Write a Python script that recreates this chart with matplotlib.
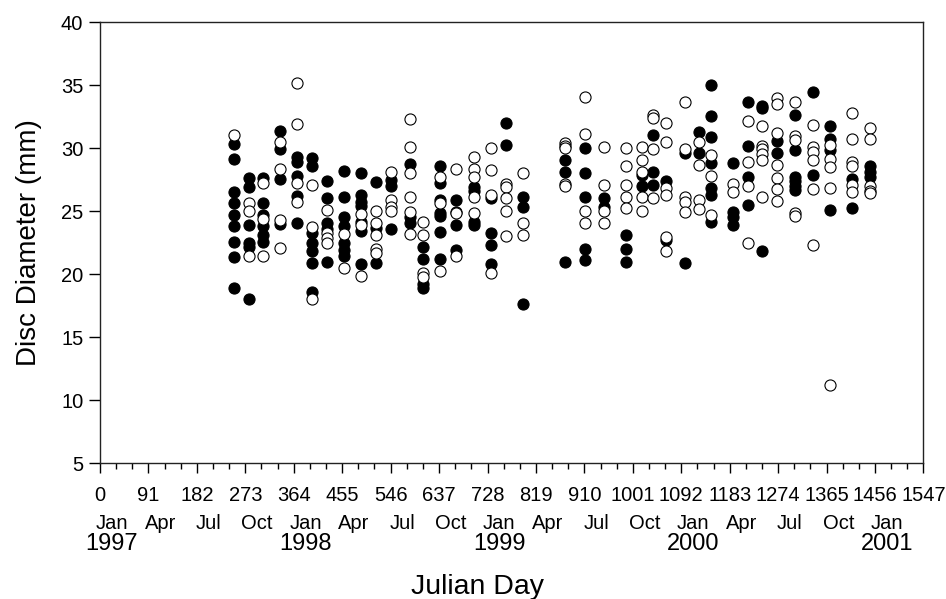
import matplotlib
matplotlib.use("Agg")
import matplotlib.pyplot as plt
import numpy as np

plt.rcParams['font.family'] = ['Liberation Sans', 'DejaVu Sans']

# Sampling days (Julian day since 1 Jan 1997)
sample_days = [251, 279, 307, 338, 370, 398, 426, 458, 490, 519, 547, 583, 607,
               638, 669, 702, 735, 763, 794, 873, 911, 947, 988, 1019, 1039,
               1064, 1099, 1125, 1147, 1189, 1218, 1243, 1271, 1306, 1340,
               1371, 1412, 1446]

# Disc diameters (mm), filled circles
filled_mm = [
    [30.36, 29.15, 26.57, 25.70, 24.72, 23.87, 22.60, 21.36, 18.90],
    [27.63, 26.97, 23.92, 22.52, 22.15, 18.02],
    [27.63, 25.70, 24.72, 23.87, 23.13, 22.60],
    [31.39, 29.93, 27.55, 24.00],
    [29.35, 28.95, 27.82, 26.23, 24.11],
    [29.22, 28.61, 23.26, 22.47, 21.89, 20.88, 18.63],
    [27.45, 26.10, 24.11, 23.58, 20.96],
    [28.24, 26.12, 24.53, 23.84, 22.47, 21.94, 21.46],
    [28.03, 26.31, 25.78, 25.43, 24.19, 23.47, 20.83],
    [27.31, 23.66, 20.88],
    [27.50, 27.02, 23.61],
    [28.74, 24.59, 24.06],
    [22.15, 21.20, 19.24, 18.90],
    [28.61, 27.29, 25.91, 24.85, 24.64, 23.39, 21.20],
    [25.91, 24.98, 23.92, 21.94],
    [26.97, 26.65, 24.19, 23.92],
    [26.04, 23.32, 22.34, 20.83],
    [32.05, 30.28],
    [26.12, 25.38, 17.62],
    [29.09, 28.16, 20.96],
    [30.01, 28.03, 26.12, 21.99, 21.15],
    [26.04, 25.38],
    [23.13, 21.99, 21.01],
    [27.90, 27.02],
    [31.07, 28.16, 27.10],
    [27.45, 22.70],
    [29.67, 20.93],
    [31.34, 29.62],
    [35.04, 32.58, 30.94, 28.82, 26.84, 26.31, 24.19],
    [28.88, 24.98, 24.59, 23.92],
    [33.72, 30.20, 27.71, 25.51],
    [33.38, 33.19, 21.89],
    [30.62, 29.67],
    [32.66, 29.88, 27.76, 27.45, 27.02, 26.70],
    [34.46, 27.89],
    [31.79, 30.73, 29.88, 25.12],
    [27.55, 25.25],
    [28.61, 28.16, 27.76],
]

# Disc diameters (mm), open circles
open_mm = [
    [31.07],
    [25.65, 25.06, 21.46],
    [27.23, 24.37, 21.46],
    [30.54, 28.35, 24.32, 22.07],
    [35.18, 31.95, 27.23, 25.78],
    [27.10, 23.74, 18.02],
    [25.12, 23.26, 22.87, 22.47],
    [23.21, 20.54],
    [24.80, 23.92, 19.90],
    [25.06, 24.06, 23.13, 21.99, 21.67],
    [28.16, 25.91, 25.38, 25.06],
    [32.32, 30.09, 28.08, 26.12, 24.98, 23.21],
    [24.19, 23.13, 20.09, 19.77],
    [27.71, 25.65, 20.30],
    [28.35, 24.85, 21.46],
    [29.30, 28.35, 27.76, 26.18, 24.90],
    [30.01, 28.29, 26.31, 20.14],
    [27.18, 26.97, 26.04, 25.06, 23.05],
    [28.03, 24.06, 23.13],
    [30.41, 30.20, 30.01, 27.18, 27.02],
    [34.06, 31.15, 25.06, 24.06],
    [30.09, 27.10, 25.06, 24.06],
    [30.01, 28.61, 27.10, 26.12, 25.25],
    [30.09, 29.09, 28.16, 26.12, 25.06],
    [32.66, 32.40, 29.93, 26.04],
    [32.05, 30.54, 26.84, 26.31, 22.95, 21.89],
    [33.72, 29.93, 26.18, 25.78, 24.98],
    [30.54, 28.69, 25.91, 25.17],
    [29.48, 27.82, 24.72],
    [27.18, 26.57],
    [32.21, 28.95, 27.02, 22.47],
    [31.79, 30.20, 29.93, 29.56, 29.09, 26.18],
    [33.98, 33.54, 31.26, 28.69, 27.63, 26.76, 25.86],
    [33.72, 30.99, 30.68, 24.85, 24.64],
    [31.87, 30.09, 29.75, 29.09, 26.76, 22.34],
    [30.28, 29.14, 28.56, 26.84, 11.22],
    [32.85, 30.73, 28.95, 28.61, 27.10, 26.57],
    [31.60, 30.73, 27.02, 26.65, 26.44],
]

x_ticks = list(range(0, 1548, 91))
month_labels = ["Jan", "Apr", "Jul", "Oct"] * 4 + ["Jan"]
year_labels = ["1997", "1998", "1999", "2000", "2001"]

fx, fy, ox, oy = [], [], [], []
for d, vals in zip(sample_days, filled_mm):
    fx += [d] * len(vals); fy += vals
for d, vals in zip(sample_days, open_mm):
    ox += [d] * len(vals); oy += vals

fig = plt.figure(figsize=(9.46, 5.99), dpi=100)
ax = fig.add_axes([0.1057, 0.2265, 0.8705, 0.736])

ms = 64
ax.scatter(fx, fy, s=ms, c='black', edgecolors='black', linewidths=0.8, zorder=3)
ax.scatter(ox, oy, s=ms, c='white', edgecolors='black', linewidths=0.8, zorder=4)

ax.set_xlim(0, 1547)
ax.set_ylim(5, 40)
ax.set_xticks(x_ticks)
ax.set_xticklabels([str(t) for t in x_ticks])
ax.set_xticks(np.arange(0, 1548, 91 / 3), minor=True)
ax.set_yticks(range(5, 41, 5))

ax.tick_params(axis='both', which='major', direction='out', labelsize=14.5,
               width=1.0, color='black')
ax.tick_params(axis='x', which='major', length=7, pad=9)
ax.tick_params(axis='y', which='major', length=8, pad=4)
ax.tick_params(axis='x', which='minor', length=4, width=1.0)
ax.tick_params(axis='y', which='minor', length=0)
for sp in ax.spines.values():
    sp.set_linewidth(1.0)
    sp.set_color('#222222')

ax.set_ylabel("Disc Diameter (mm)", fontsize=20, labelpad=14)

off_days = 22
for i, lab in enumerate(month_labels):
    t = x_ticks[i]
    ax.annotate(lab, xy=(t + off_days, 0), xycoords=('data', 'axes fraction'),
                xytext=(0, -43), textcoords='offset points',
                ha='center', va='center', fontsize=14.5)
for j, yl in enumerate(year_labels):
    t = x_ticks[j * 4]
    ax.annotate(yl, xy=(t + off_days, 0), xycoords=('data', 'axes fraction'),
                xytext=(0, -58), textcoords='offset points',
                ha='center', va='center', fontsize=17)
ax.annotate("Julian Day", xy=(0.459, 0), xycoords='axes fraction',
            xytext=(0, -89), textcoords='offset points',
            ha='center', va='center', fontsize=20.5)

fig.savefig("out.png", dpi=100)
